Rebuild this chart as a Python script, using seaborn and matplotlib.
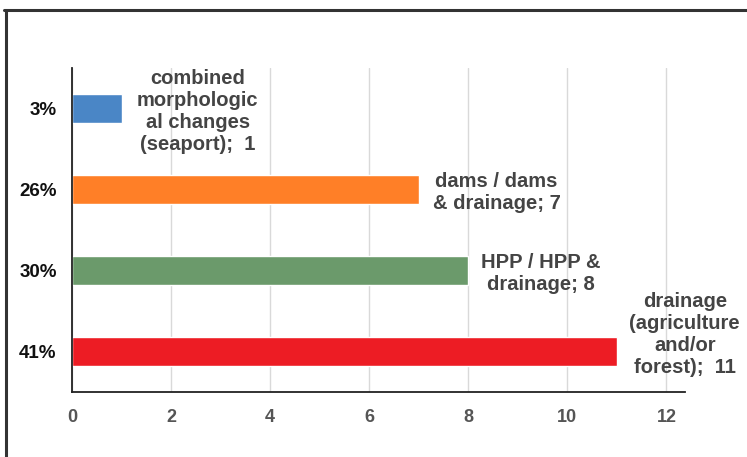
import pandas as pd
import matplotlib.pyplot as plt
import seaborn as sns
from matplotlib.lines import Line2D

shares = ["3%", "26%", "30%", "41%"]
counts = [1, 7, 8, 11]
labels = ["combined\nmorphologic\nal changes\n(seaport);  1",
          "dams / dams\n& drainage; 7",
          "HPP / HPP &\ndrainage; 8",
          "drainage\n(agriculture\nand/or\nforest);  11"]
colors = ["#4a86c6", "#ff7f27", "#6b9a6b", "#ed1c24"]

sns.set_style("white")
plt.rcParams['font.family'] = ['Liberation Sans', 'DejaVu Sans']

data = pd.DataFrame({"share": shares, "count": counts})

fig = plt.figure(figsize=(7.47, 4.57), dpi=100)
ax = fig.add_axes([0.0964, 0.142, 0.821, 0.709])
sns.barplot(data=data, x="count", y="share", hue="share", palette=colors,
            orient="h", width=0.35, legend=False, ax=ax, saturation=1)

ax.set_xlim(0, 12.38)
ax.set_ylim(3.5, -0.5)
ax.set_xticks(range(0, 13, 2))
ax.xaxis.grid(True, color="#d9d9d9", lw=1)
ax.set_axisbelow(True)
ax.set_xlabel("")
ax.set_ylabel("")
for s in ["top", "right"]:
    ax.spines[s].set_visible(False)
for s in ["left", "bottom"]:
    ax.spines[s].set_color("#222222")
    ax.spines[s].set_linewidth(1.3)
ax.tick_params(axis="x", length=0, pad=12, labelsize=13, labelcolor="#555555")
ax.tick_params(axis="y", length=0, pad=11, labelsize=13.5, labelcolor="#111111")
for t in ax.get_xticklabels() + ax.get_yticklabels():
    t.set_fontweight("bold")

# label positions: offset (points) from bar end
offsets = [(11, -2), (10, -2), (9, -2), (9, 12)]
for i, (c, lab) in enumerate(zip(counts, labels)):
    ax.annotate(lab, xy=(c, i), xytext=offsets[i], textcoords="offset points",
                ha="left", va="center", multialignment="center",
                fontsize=14.5, fontweight="bold", color="#444444", linespacing=1.2)

# frame lines of the screenshot
fig.add_artist(Line2D([0.006, 1], [0.978, 0.978], color="#333333", lw=2.2))
fig.add_artist(Line2D([0.008, 0.008], [0, 0.978], color="#333333", lw=2.2))

fig.savefig("out.png", dpi=100)
